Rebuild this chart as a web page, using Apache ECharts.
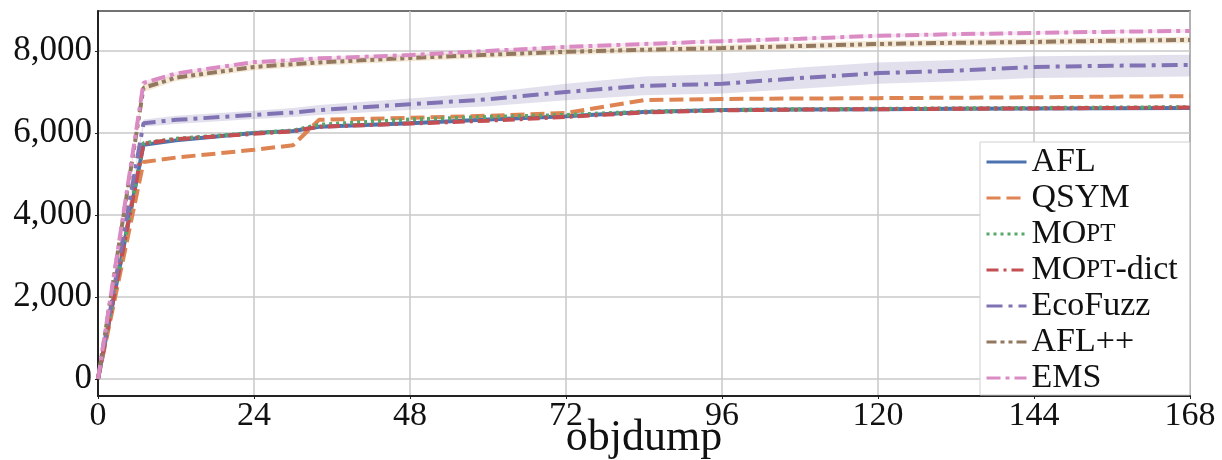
<!DOCTYPE html>
<html>
<head>
<meta charset="utf-8">
<script src="https://cdn.jsdelivr.net/npm/echarts@6/dist/echarts.min.js"></script>
<style>
  html, body { margin: 0; padding: 0; background: #fff; }
  #chart { width: 1222px; height: 460px; }
</style>
</head>
<body>
<div id="chart"></div>
<script>
// 时间点（小时）
var hours = [0, 7, 12, 24, 30, 34, 48, 60, 72, 84, 96, 108, 120, 132, 144, 156, 168];

// 各模糊器的边覆盖数据
var afl      = [0, 5710, 5820, 6000, 6050, 6150, 6240, 6330, 6410, 6510, 6560, 6570, 6580, 6590, 6600, 6605, 6610];
var qsym     = [0, 5290, 5400, 5590, 5700, 6320, 6370, 6420, 6490, 6800, 6830, 6840, 6850, 6860, 6870, 6885, 6900];
var mopt     = [0, 5750, 5860, 6000, 6060, 6200, 6330, 6390, 6440, 6520, 6560, 6580, 6590, 6600, 6610, 6620, 6630];
var moptDict = [0, 5740, 5850, 5980, 6040, 6150, 6230, 6300, 6390, 6500, 6550, 6570, 6580, 6590, 6600, 6610, 6620];
var ecofuzz  = [0, 6240, 6320, 6440, 6500, 6560, 6700, 6820, 7000, 7150, 7200, 7340, 7460, 7520, 7610, 7640, 7660];
var aflpp    = [0, 7100, 7350, 7610, 7680, 7720, 7830, 7910, 7980, 8030, 8070, 8120, 8170, 8200, 8220, 8250, 8270];
var ems      = [0, 7220, 7450, 7730, 7780, 7820, 7900, 8000, 8100, 8170, 8240, 8300, 8370, 8410, 8440, 8470, 8490];

// 阴影区间（上下界）
var ecofuzzLow  = [0, 6150, 6220, 6340, 6390, 6440, 6560, 6650, 6800, 6920, 6960, 7080, 7200, 7260, 7340, 7360, 7380];
var ecofuzzHigh = [0, 6330, 6420, 6540, 6610, 6680, 6840, 6990, 7200, 7380, 7440, 7600, 7720, 7780, 7870, 7890, 7910];
var aflppLow    = [0, 7000, 7270, 7530, 7600, 7640, 7750, 7830, 7900, 7950, 7990, 8040, 8090, 8120, 8140, 8170, 8190];
var aflppHigh   = [0, 7200, 7430, 7690, 7760, 7800, 7910, 7990, 8060, 8110, 8150, 8200, 8250, 8280, 8300, 8330, 8350];
var emsLow      = [0, 7170, 7410, 7690, 7740, 7780, 7860, 7960, 8060, 8130, 8200, 8260, 8330, 8370, 8400, 8430, 8450];
var emsHigh     = [0, 7270, 7490, 7770, 7820, 7860, 7940, 8040, 8140, 8210, 8280, 8340, 8410, 8450, 8480, 8510, 8530];

var yTicks = [0, 2000, 4000, 6000, 8000];

var font = "Liberation Serif";

function pairs(arr) {
  return hours.map(function (h, i) { return [h, arr[i]]; });
}

// 用 custom 系列画置信区间
function band(low, high, color) {
  return {
    type: "custom", silent: true, z: 1, clip: true,
    data: hours.map(function (h, i) { return [h, low[i], high[i]]; }),
    renderItem: function (params, api) {
      if (params.dataIndexInside !== 0) return null;
      var n = hours.length;
      var top = [], bottom = [];
      for (var j = 0; j < n; j++) {
        top.push(api.coord([api.value(0, j), api.value(2, j)]));
        bottom.unshift(api.coord([api.value(0, j), api.value(1, j)]));
      }
      return {
        type: "polygon",
        shape: { points: top.concat(bottom) },
        style: { fill: color, stroke: null }
      };
    }
  };
}

function line(name, arr, color, dash) {
  return {
    name: name, type: "line", data: pairs(arr), symbol: "none",
    lineStyle: { color: color, width: 4, type: dash },
    itemStyle: { color: color }, z: 3
  };
}

var myChart = echarts.init(document.getElementById("chart"));

option = {
  animation: false,
  grid: {
    left: 98, right: 32, top: 11, bottom: 64,
    outerBoundsMode: "none", containLabel: false,
    show: true, borderColor: "#444", borderWidth: 1.5
  },
  xAxis: {
    type: "value", min: 0, max: 168, interval: 24,
    name: "objdump", nameLocation: "middle", nameGap: 20, nameMoveOverlap: false,
    nameTextStyle: { fontFamily: font, fontSize: 44, color: "#111", verticalAlign: "top" },
    axisLine: { onZero: false, lineStyle: { color: "#222", width: 2 } },
    axisTick: { show: true, length: 3, lineStyle: { color: "#222" } },
    axisLabel: { fontFamily: font, fontSize: 34, color: "#111", margin: 3 },
    splitLine: { lineStyle: { color: "#c8c8c8", width: 1.5 } }
  },
  yAxis: {
    type: "value", min: -415, max: 8975,
    axisLine: { show: true, onZero: false, lineStyle: { color: "#222", width: 2 } },
    axisTick: { show: true, length: 3, customValues: yTicks, lineStyle: { color: "#222" } },
    axisLabel: {
      customValues: yTicks, fontFamily: font, fontSize: 35, color: "#111", margin: 6,
      formatter: function (v) { return v.toLocaleString("en-US"); }
    },
    splitLine: { lineStyle: { color: "#c8c8c8", width: 1.5 } }
  },
  legend: {
    orient: "vertical", left: 980, top: 142,
    data: ["AFL", "QSYM", "MOpt", "MOpt-dict", "EcoFuzz", "AFL++", "EMS"],
    backgroundColor: "#fff", borderColor: "#d0d0d0", borderWidth: 1,
    padding: [3, 12, 0, 5], itemGap: 2, itemWidth: 40, itemHeight: 4,
    itemStyle: { opacity: 0 },
    lineStyle: { width: 3 },
    textStyle: {
      fontFamily: font, fontSize: 34, color: "#111", lineHeight: 32,
      rich: { sc: { fontFamily: font, fontSize: 25, color: "#111" } }
    },
    formatter: function (name) {
      if (name === "MOpt") return "MO{sc|PT}";
      if (name === "MOpt-dict") return "MO{sc|PT}-dict";
      return name;
    }
  },
  series: [
    band(ecofuzzLow, ecofuzzHigh, "rgba(129,114,179,0.22)"),
    band(aflppLow, aflppHigh, "rgba(215,175,110,0.28)"),
    band(emsLow, emsHigh, "rgba(218,139,195,0.2)"),
    line("AFL", afl, "#4C72B0", "solid"),
    line("QSYM", qsym, "#DD8452", [14, 6]),
    line("MOpt", mopt, "#55A868", [3, 4]),
    line("MOpt-dict", moptDict, "#C44E52", [12, 5, 3, 5]),
    line("EcoFuzz", ecofuzz, "#8172B3", [16, 6, 4, 6]),
    line("AFL++", aflpp, "#937860", [10, 4, 4, 4, 4, 4]),
    line("EMS", ems, "#DA8BC3", [14, 5, 4, 5])
  ]
};

myChart.setOption(option);
</script>
</body>
</html>
